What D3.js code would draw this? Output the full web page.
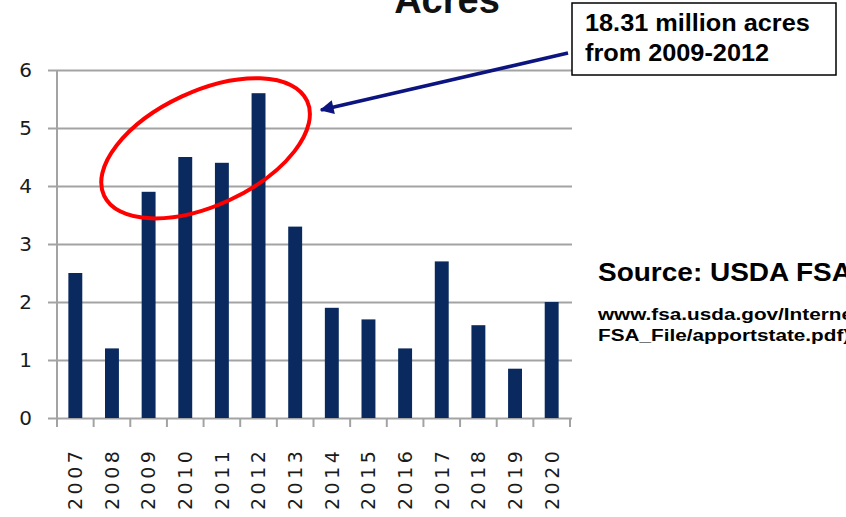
<!DOCTYPE html>
<html>
<head>
<meta charset="utf-8">
<script src="https://cdn.jsdelivr.net/npm/d3@7/dist/d3.min.js"></script>
<style>
  body { margin: 0; background: #fff; }
  svg { display: block; }
</style>
</head>
<body>
<svg id="chart" width="846" height="517"></svg>
<script>
var years = ['2007', '2008', '2009', '2010', '2011', '2012', '2013',
             '2014', '2015', '2016', '2017', '2018', '2019', '2020'];
var acres = [2.5, 1.2, 3.9, 4.5, 4.4, 5.6, 3.3, 1.9, 1.7, 1.2, 2.7, 1.6, 0.85, 2.0];
var yTicks = [0, 1, 2, 3, 4, 5, 6];

var titleText = 'Acres';
var calloutLines = ['18.31 million acres', 'from 2009-2012'];
var sourceTitle = 'Source: USDA FSA';
var sourceLines = ['www.fsa.usda.gov/Internet/', 'FSA_File/apportstate.pdf)'];

var plot = {left: 57, right: 570, top: 70, bottom: 418};

var svg = d3.select('svg#chart');

var x = d3.scaleBand().domain(years)
    .range([plot.left, plot.right])
    .paddingInner(0.62).paddingOuter(0.31);
var y = d3.scaleLinear().domain([0, 6]).range([plot.bottom, plot.top]);

// gridlines + y labels
var yAxis = d3.axisLeft(y).tickValues(yTicks)
    .tickSize(-(572 - 48)).tickPadding(16).tickFormat(d3.format('d'));
var gy = svg.append('g')
    .attr('transform', 'translate(48,0)')
    .call(yAxis);
gy.select('.domain').remove();
gy.selectAll('line').attr('stroke', '#a3a3a3').attr('stroke-width', 2);
gy.selectAll('text')
    .attr('fill', '#1b1b1b')
    .style('font-family', 'DejaVu Sans, sans-serif')
    .style('font-size', '20px');

// y axis line
svg.append('line')
    .attr('x1', plot.left).attr('x2', plot.left)
    .attr('y1', plot.top).attr('y2', plot.bottom + 9)
    .attr('stroke', '#a3a3a3').attr('stroke-width', 2);

// category boundary ticks
var step = x.step();
var bounds = years.map(function(d) { return x(d) - step * x.paddingInner() / 2; });
bounds.push(plot.right);
svg.selectAll('.xtick').data(bounds).enter().append('line')
    .attr('class', 'xtick')
    .attr('x1', function(d) { return d; }).attr('x2', function(d) { return d; })
    .attr('y1', plot.bottom).attr('y2', plot.bottom + 9)
    .attr('stroke', '#a3a3a3').attr('stroke-width', 2);

// bars
svg.selectAll('.bar').data(acres).enter().append('rect')
    .attr('class', 'bar')
    .attr('x', function(d, i) { return x(years[i]); })
    .attr('width', x.bandwidth())
    .attr('y', function(d) { return y(d); })
    .attr('height', function(d) { return y(0) - y(d); })
    .attr('fill', '#0a2a5f');

// x labels
svg.selectAll('.xlabel').data(years).enter().append('text')
    .attr('class', 'xlabel')
    .attr('transform', function(d) {
        return 'translate(' + (x(d) + x.bandwidth() / 2) + ',510) rotate(-90)';
    })
    .attr('dy', '0.36em')
    .style('font-family', 'DejaVu Sans, sans-serif')
    .style('font-size', '19px')
    .style('letter-spacing', '3.5px')
    .attr('fill', '#1b1b1b')
    .text(function(d) { return d; });

// title (clipped at top)
svg.append('text')
    .attr('x', 447).attr('y', 13)
    .attr('text-anchor', 'middle')
    .style('font-family', 'Liberation Sans, Arial, sans-serif')
    .style('font-weight', 'bold')
    .style('font-size', '38px')
    .attr('fill', '#111')
    .text(titleText);

// red ellipse round 2009-2012
var ex = x('2011') - step * x.paddingInner() / 2 + 2,
    ey = y(4.65);
svg.append('ellipse')
    .attr('transform', 'translate(' + ex + ',' + ey + ') rotate(-25)')
    .attr('rx', 112).attr('ry', 57)
    .attr('fill', 'none')
    .attr('stroke', '#ff0000')
    .attr('stroke-width', 4);

// arrow
svg.append('defs').append('marker')
    .attr('id', 'head')
    .attr('viewBox', '0 0 10 10')
    .attr('refX', 9).attr('refY', 5)
    .attr('markerWidth', 5).attr('markerHeight', 4)
    .attr('markerUnits', 'strokeWidth')
    .attr('orient', 'auto')
    .append('path').attr('d', 'M0,0L10,5L0,10Z').attr('fill', '#0c1480');
svg.append('line')
    .attr('x1', 568).attr('y1', 53)
    .attr('x2', 321).attr('y2', 110)
    .attr('stroke', '#0c1480').attr('stroke-width', 3.5)
    .attr('marker-end', 'url(#head)');

// callout box
svg.append('rect')
    .attr('x', 572).attr('y', 3).attr('width', 264).attr('height', 72)
    .attr('fill', '#fff').attr('stroke', '#000').attr('stroke-width', 1.5);
svg.selectAll('.callout').data(calloutLines).enter().append('text')
    .attr('class', 'callout')
    .attr('transform', function(d, i) { return 'translate(585,' + (31 + i * 30) + ') scale(1.1,1)'; })
    .style('font-family', 'Liberation Sans, Arial, sans-serif')
    .style('font-weight', 'bold')
    .style('font-size', '23px')
    .attr('fill', '#000')
    .text(function(d) { return d; });

// source (runs off the right edge, as in the original slide)
svg.append('text')
    .attr('transform', 'translate(598,281) scale(1.12,1)')
    .style('font-family', 'Liberation Sans, Arial, sans-serif')
    .style('font-weight', 'bold')
    .style('font-size', '25px')
    .attr('fill', '#000')
    .text(sourceTitle);
svg.selectAll('.src').data(sourceLines).enter().append('text')
    .attr('class', 'src')
    .attr('transform', function(d, i) { return 'translate(598,' + (320 + i * 21) + ') scale(1.22,1)'; })
    .style('font-family', 'Liberation Sans, Arial, sans-serif')
    .style('font-weight', 'bold')
    .style('font-size', '17px')
    .attr('fill', '#000')
    .text(function(d) { return d; });
</script>
</body>
</html>
